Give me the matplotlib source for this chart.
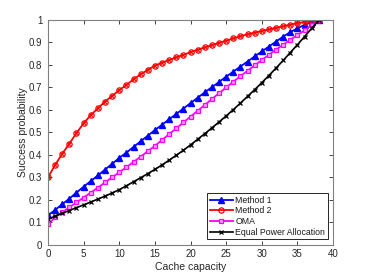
import matplotlib
matplotlib.use("Agg")
import matplotlib.pyplot as plt
import numpy as np

cache = list(range(0, 39))
method1 = [0.13, 0.155, 0.18, 0.205, 0.232, 0.258, 0.283, 0.308, 0.334, 0.36,
           0.386, 0.41, 0.435, 0.46, 0.485, 0.51, 0.534, 0.558, 0.582, 0.606,
           0.63, 0.654, 0.678, 0.701, 0.724, 0.748, 0.77, 0.793, 0.815, 0.838,
           0.86, 0.882, 0.904, 0.926, 0.946, 0.963, 0.978, 0.991, 1.0]
method2 = [0.30, 0.355, 0.405, 0.45, 0.497, 0.54, 0.577, 0.607, 0.637, 0.662,
           0.688, 0.711, 0.736, 0.758, 0.778, 0.797, 0.81, 0.822, 0.834, 0.845,
           0.857, 0.868, 0.878, 0.888, 0.898, 0.908, 0.918, 0.928, 0.936, 0.944,
           0.951, 0.958, 0.965, 0.972, 0.979, 0.986, 0.991, 0.996, 1.0]
oma = [0.09, 0.122, 0.144, 0.166, 0.188, 0.21, 0.232, 0.254, 0.277, 0.30,
       0.322, 0.345, 0.368, 0.392, 0.416, 0.44, 0.466, 0.492, 0.518, 0.544,
       0.57, 0.596, 0.622, 0.648, 0.674, 0.70, 0.725, 0.75, 0.774, 0.798,
       0.822, 0.845, 0.868, 0.89, 0.912, 0.933, 0.954, 0.977, 1.0]
equal_pa = [0.113, 0.127, 0.14, 0.152, 0.165, 0.177, 0.19, 0.203, 0.216, 0.23,
            0.245, 0.262, 0.28, 0.298, 0.316, 0.335, 0.355, 0.376, 0.398, 0.42,
            0.444, 0.469, 0.494, 0.52, 0.546, 0.573, 0.601, 0.63, 0.66, 0.69,
            0.721, 0.753, 0.786, 0.82, 0.855, 0.89, 0.926, 0.963, 1.0]
labels = ["Method 1", "Method 2", "OMA", "Equal Power Allocation"]
xticks = [0, 5, 10, 15, 20, 25, 30, 35, 40]
yticks = [0, 0.1, 0.2, 0.3, 0.4, 0.5, 0.6, 0.7, 0.8, 0.9, 1]
ytick_labels = ["0", "0.1", "0.2", "0.3", "0.4", "0.5", "0.6", "0.7", "0.8", "0.9", "1"]

plt.rcParams['font.family'] = ['Liberation Sans', 'DejaVu Sans']

fig = plt.figure(figsize=(3.68, 2.76), dpi=100)
ax = fig.add_axes([0.1304, 0.1134, 0.905 - 0.1304, 0.9275 - 0.1134])

gray = '#262626'
ax.plot(cache, method1, color='blue', lw=1.3, marker='^', ms=4.0,
        markerfacecolor='blue', markeredgecolor='blue', label=labels[0])
ax.plot(cache, method2, color='red', lw=1.3, marker='o', ms=3.8,
        markerfacecolor='none', markeredgecolor='red', markeredgewidth=0.9, label=labels[1])
ax.plot(cache, method2, color='red', lw=0, marker='x', ms=2.0,
        markeredgewidth=0.7, label='_nolegend_')
ax.plot(cache, oma, color='magenta', lw=1.3, marker='s', ms=3.2,
        markerfacecolor='#ff9cff', markeredgecolor='magenta', markeredgewidth=0.9, label=labels[2])
ax.plot(cache, equal_pa, color='black', lw=1.2, marker='x', ms=2.8,
        markeredgewidth=0.9, label=labels[3])

ax.set_xlim(0, 40)
ax.set_ylim(0, 1)
ax.set_xticks(xticks)
ax.set_yticks(yticks)
ax.set_yticklabels(ytick_labels)
ax.tick_params(direction='in', top=True, right=True, labelsize=7, colors=gray,
               length=3, width=0.6, pad=3)
ax.tick_params(axis='y', pad=4)
for s in ax.spines.values():
    s.set_color('#808080')
    s.set_linewidth(0.8)
ax.set_xlabel("Cache capacity", fontsize=7.5, color=gray, labelpad=2)
ax.set_ylabel("Success probability", fontsize=7.5, color=gray, labelpad=1)

leg = ax.legend(loc='lower right', fontsize=6.3, frameon=True, fancybox=False,
                edgecolor='#262626', framealpha=1, borderpad=0.3, labelspacing=0.2,
                handlelength=2.6, handletextpad=0.3, borderaxespad=0.6)
leg.get_frame().set_linewidth(0.7)
for t in leg.get_texts():
    t.set_color('#1a1a1a')

fig.savefig("out.png", dpi=100)
